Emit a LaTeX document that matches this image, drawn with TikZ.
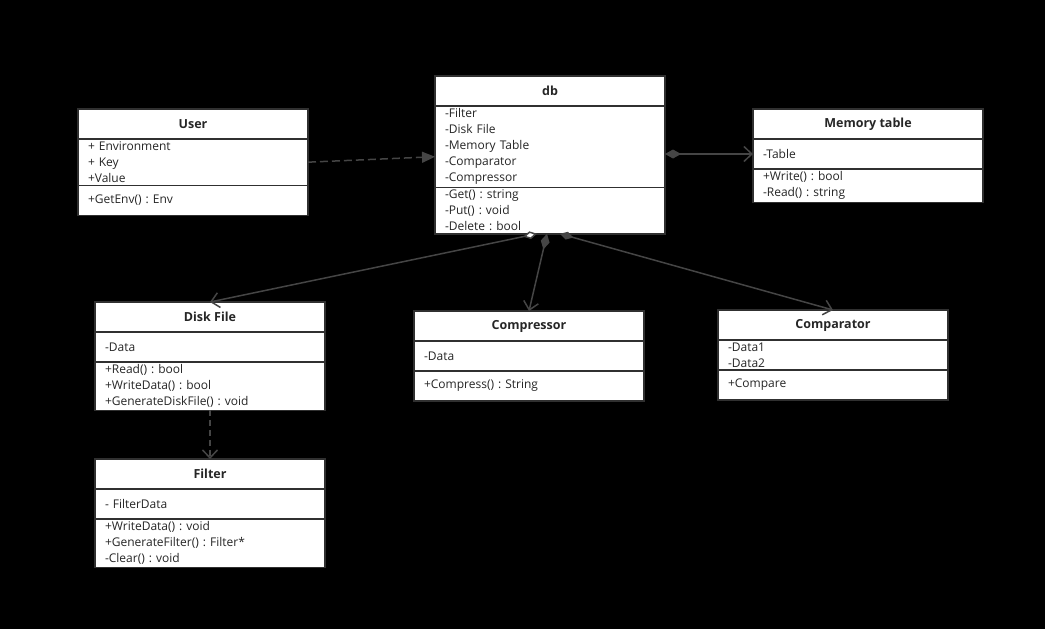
\documentclass[tikz,border=0pt]{standalone}
\usepackage{fontspec}
\setmainfont{Open Sans}
\usetikzlibrary{positioning,calc,arrows.meta}
\definecolor{umlline}{HTML}{303030}
\definecolor{umlwire}{HTML}{454545}

\tikzset{
  classhead/.style={draw=umlline, line width=1.5pt, fill=white, minimum width=230pt,
    minimum height=30pt, inner sep=0pt, outer sep=0pt,
    font=\fontsize{12.5}{16}\selectfont\bfseries, text=black!85},
  classpart/.style={draw=umlline, line width=1.5pt, fill=white, text width=210pt,
    inner xsep=10pt, inner ysep=2.7pt, minimum height=30pt, outer sep=0pt, align=left,
    font=\fontsize{12}{16}\selectfont\frenchspacing, text=black!85},
  wire/.style={draw=umlwire, line width=1.5pt},
  openhead/.style={-{Straight Barb[length=8pt,width=15pt]}},
}

\begin{document}
\begin{tikzpicture}[x=1pt, y=-1pt]

\fill[black] (0,0) rectangle (1045,629);
\useasboundingbox (0,0) rectangle (1045,629);

% user
\node[classhead, anchor=north west] at (78,109) (userhead) {User};
\node[classpart, below=0pt of userhead] (userattr) {+ Environment\\+ Key\\+Value};
\node[classpart, below=0pt of userattr] (usermeth) {+GetEnv() : Env};

% db
\node[classhead, anchor=north west] at (435,76) (dbhead) {db};
\node[classpart, below=0pt of dbhead] (dbattr) {-Filter\\-Disk File\\-Memory Table\\-Comparator\\-Compressor};
\node[classpart, below=0pt of dbattr] (dbmeth) {-Get() : string\\-Put() : void\\-Delete : bool};

% memory table
\node[classhead, anchor=north west] at (753,109) (memhead) {Memory table};
\node[classpart, below=0pt of memhead] (memattr) {-Table};
\node[classpart, below=0pt of memattr] (memmeth) {+Write() : bool\\-Read() : string};

% disk file
\node[classhead, anchor=north west] at (95,302) (diskhead) {Disk File};
\node[classpart, below=0pt of diskhead] (diskattr) {-Data};
\node[classpart, below=0pt of diskattr] (diskmeth) {+Read() : bool\\+WriteData() : bool\\+GenerateDiskFile() : void};

% compressor
\node[classhead, anchor=north west] at (414,311) (comphead) {Compressor};
\node[classpart, below=0pt of comphead] (compattr) {-Data};
\node[classpart, below=0pt of compattr] (compmeth) {+Compress() : String};

% comparator
\node[classhead, anchor=north west] at (718,310) (cmphead) {Comparator};
\node[classpart, below=0pt of cmphead] (cmpattr) {-Data1\\-Data2};
\node[classpart, below=0pt of cmpattr] (cmpmeth) {+Compare};

% filter
\node[classhead, anchor=north west] at (95,459) (filthead) {Filter};
\node[classpart, below=0pt of filthead] (filtattr) {- FilterData};
\node[classpart, below=0pt of filtattr] (filtmeth) {+WriteData() : void\\+GenerateFilter() : Filter*\\-Clear() : void};

% links
\draw[wire, dashed, dash pattern=on 8pt off 4pt, -{Triangle[length=13pt,width=11pt]}]
    (userattr.east) -- ([yshift=-10pt]dbattr.west);
\draw[wire, {Diamond[length=16pt,width=9pt]}-{Straight Barb[length=8pt,width=15pt]}]
    (dbattr.east |- memattr.west) -- (memattr.west);

\coordinate (aggdisk) at ([xshift=-13pt]dbmeth.south);
\coordinate (aggcomp) at ([xshift=-3pt]dbmeth.south);
\coordinate (aggcmp) at ([xshift=10pt]dbmeth.south);
\draw[wire, {Diamond[fill=white,length=14pt,width=8pt]}-{Straight Barb[length=8pt,width=15pt]}]
    (aggdisk) -- (diskhead.north);
\draw[wire, {Diamond[length=16pt,width=9pt]}-{Straight Barb[length=8pt,width=15pt]}]
    (aggcomp) -- (comphead.north);
\draw[wire, {Diamond[length=14pt,width=8pt]}-{Straight Barb[length=8pt,width=15pt]}]
    (aggcmp) -- (cmphead.north);

\draw[wire, dashed, dash pattern=on 6pt off 4pt, openhead] (diskmeth.south) -- (filthead.north);
\end{tikzpicture}
\end{document}
